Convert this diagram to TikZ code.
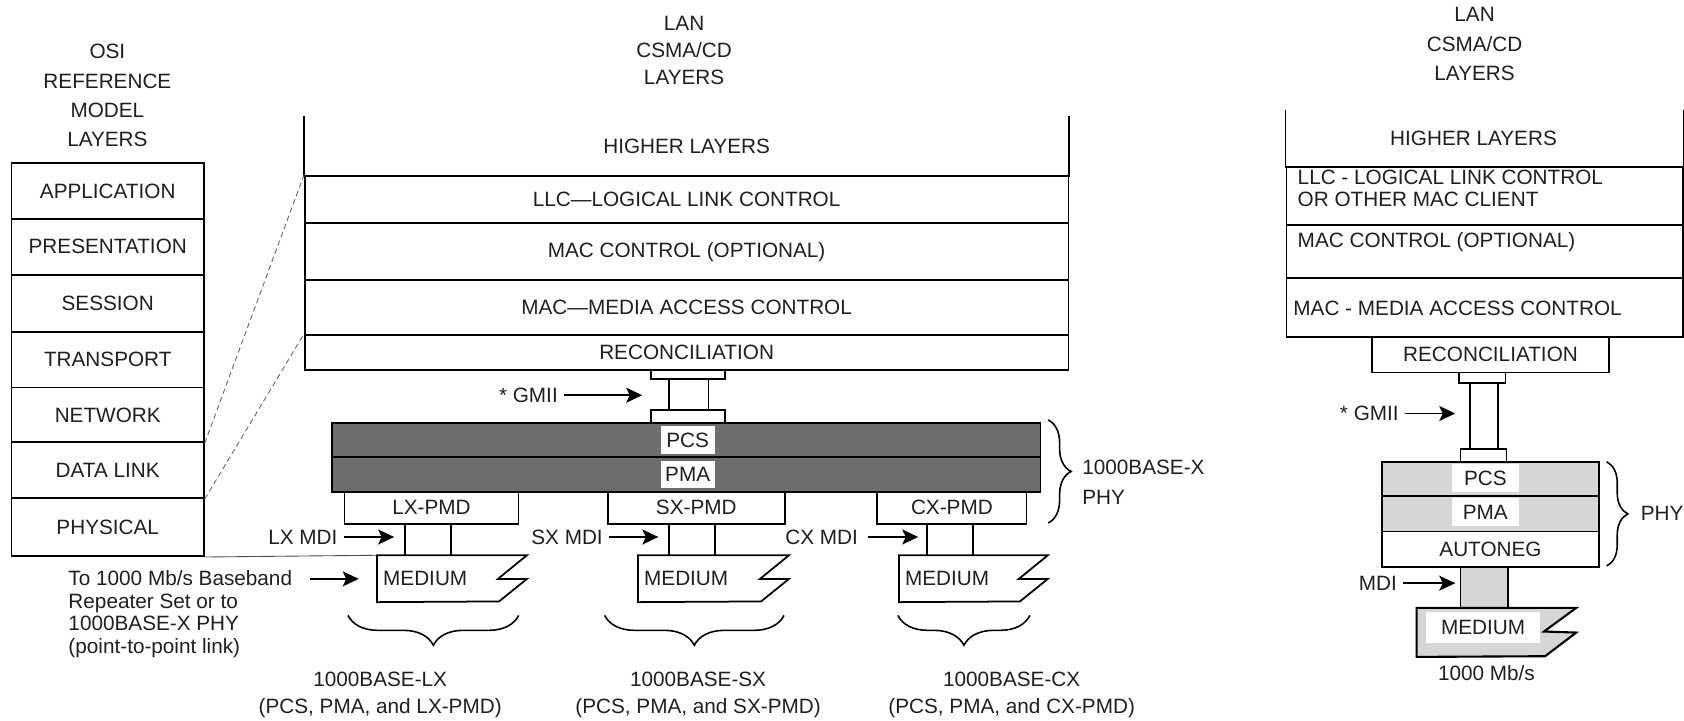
\documentclass[tikz,border=0pt]{standalone}
\usepackage{fontspec}
\setmainfont{Liberation Sans}
\usetikzlibrary{arrows.meta,decorations.pathreplacing}
\definecolor{pcsgray}{HTML}{6E6E6E}
\definecolor{phygray}{HTML}{D6D6D6}
\newdimen\px \px=0.02148cm

\begin{document}
\begin{tikzpicture}[
    x=0.02148cm,y=-0.02148cm,
    font=\fontsize{11.8}{13}\selectfont,text=black!88,
    >={Stealth[length=3.2mm,width=3mm,inset=0.7mm]},
    box/.style={draw,line width=1pt,anchor=north west,inner sep=0pt},
    osibox/.style={box,minimum width=179\px},
    lanbox/.style={box,minimum width=711\px},
    rlanbox/.style={box,minimum width=369\px},
    pmdbox/.style={box,minimum height=30\px},
    portbox/.style={anchor=north west,inner sep=0pt,minimum height=30\px},
    medbox/.style={anchor=north west,inner sep=0pt,minimum height=43\px},
    tagbox/.style={fill=white,inner sep=0pt,minimum height=26\px},
    headtxt/.style={align=center,font=\fontsize{11.8}{16}\selectfont},
    mdiarrow/.style={->,line width=1pt,shorten >=10\px},
    bracestyle/.style={decorate,line width=0.9pt},
    linkline/.style={line width=0.5pt,black!60,densely dashed},
    ]
    \useasboundingbox (0,0) rectangle (1568,671);

    % titles
    \node[headtxt,font=\fontsize{11.8}{16.6}\selectfont] (osititle) at (100,89) {OSI\\REFERENCE\\MODEL\\LAYERS};
    \node[headtxt,font=\fontsize{11.8}{15.4}\selectfont] (lantitle) at (637,47) {LAN\\CSMA/CD\\LAYERS};
    \node[headtxt,font=\fontsize{11.8}{16.6}\selectfont] (rlantitle) at (1373,41) {LAN\\CSMA/CD\\LAYERS};

    % OSI stack
    \node[osibox,minimum height=52\px] (app) at (10,151) {APPLICATION};
    \node[osibox,minimum height=52\px] (pres) at (10,203) {PRESENTATION};
    \node[osibox,minimum height=53\px] (sess) at (10,255) {SESSION};
    \node[osibox,minimum height=52\px] (trans) at (10,308) {TRANSPORT};
    \node[osibox,minimum height=51\px] (net) at (10,360) {NETWORK};
    \node[osibox,minimum height=52\px] (dl) at (10,411) {DATA LINK};
    \node[osibox,minimum height=54\px] (phy) at (10,463) {PHYSICAL};

    % LAN layers
    \node[lanbox,draw=none,minimum height=55\px] (hl) at (283,108) {HIGHER LAYERS};
    \draw[line width=1pt] (hl.north west) -- (hl.south west) (hl.north east) -- (hl.south east);
    \node[lanbox,minimum height=44\px] (llc) at (283,163) {LLC—LOGICAL LINK CONTROL};
    \node[lanbox,minimum height=53\px] (macc) at (283,207) {MAC CONTROL (OPTIONAL)};
    \node[lanbox,minimum height=51\px] (mac) at (283,260) {MAC—MEDIA ACCESS CONTROL};
    \node[lanbox,minimum height=33\px] (rec) at (283,311) {RECONCILIATION};
    \draw[linkline] (net.south east) -- (llc.north west);
    \draw[linkline] (dl.south east) -- (rec.north west);

    % GMII
    \node[box,minimum width=69\px,minimum height=8\px] (gtop) at (605,344) {};
    \node[portbox,minimum width=36\px,minimum height=29\px] (gmii) at (623,352) {};
    \draw[line width=1pt] (gmii.north west) -- (gmii.south west) (gmii.north east) -- (gmii.south east);
    \node[box,minimum width=69\px,minimum height=12\px] (gbot) at (605,381) {};
    \node (gmiitxt) at (492,368) {* GMII};
    \draw[mdiarrow,shorten >=25\px] (gmiitxt.east) -- (gmiitxt.east -| gmii.west);

    % PCS / PMA
    \node[box,fill=pcsgray,minimum width=660\px,minimum height=32\px] (pcs) at (308,393) {};
    \node[box,fill=pcsgray,minimum width=660\px,minimum height=32\px] (pma) at (308,425) {};
    \node[tagbox,minimum width=50\px] (pcstag) at (pcs.center -| gtop.center) {PCS};
    \node[tagbox,minimum width=50\px] (pmatag) at (pma.center -| gtop.center) {PMA};
    \draw[bracestyle,decoration={brace,amplitude=13pt}] (976,391) -- (976,487);
    \node[anchor=west,align=left,font=\fontsize{11.8}{16.6}\selectfont] (xphy) at (1002,449) {1000BASE-X\\PHY};

    % PMDs
    \node[pmdbox,minimum width=162\px] (lxpmd) at (320,457) {LX-PMD};
    \node[pmdbox,minimum width=165\px] (sxpmd) at (565,457) {SX-PMD};
    \node[pmdbox,minimum width=139\px] (cxpmd) at (816,457) {CX-PMD};

    \node[portbox,minimum width=42\px] (lxmdi) at (377,487) {};
    \node[portbox,minimum width=42\px] (sxmdi) at (623,487) {};
    \node[portbox,minimum width=42\px] (cxmdi) at (863,487) {};
    \draw[line width=1pt]
        (lxmdi.north west) -- (lxmdi.south west) (lxmdi.north east) -- (lxmdi.south east)
        (sxmdi.north west) -- (sxmdi.south west) (sxmdi.north east) -- (sxmdi.south east)
        (cxmdi.north west) -- (cxmdi.south west) (cxmdi.north east) -- (cxmdi.south east);
    \node (lxmditxt) at (282,500) {LX MDI};
    \node (sxmditxt) at (528,500) {SX MDI};
    \node (cxmditxt) at (765,500) {CX MDI};
    \draw[mdiarrow] (lxmditxt.east) -- (lxmditxt.east -| lxmdi.west);
    \draw[mdiarrow] (sxmditxt.east) -- (sxmditxt.east -| sxmdi.west);
    \draw[mdiarrow,shorten >=8\px,shorten <=4\px] (cxmditxt.east) -- (cxmditxt.east -| cxmdi.west);

    % media
    \node[medbox,minimum width=139\px] (lxmed) at (351,517) {};
    \node[medbox,minimum width=140\px] (sxmed) at (594,517) {};
    \node[medbox,minimum width=138\px] (cxmed) at (837,517) {};
    \draw[line width=1pt] (lxmed.north west) -- (lxmed.north east) -- ++(-27,22) -- ++(27,0) -- ++(-26,21) -- (lxmed.south west) -- cycle;
    \draw[line width=1pt] (sxmed.north west) -- (sxmed.north east) -- ++(-27,22) -- ++(27,0) -- ++(-26,21) -- (sxmed.south west) -- cycle;
    \draw[line width=1pt] (cxmed.north west) -- (cxmed.north east) -- ++(-27,22) -- ++(27,0) -- ++(-26,21) -- (cxmed.south west) -- cycle;
    \node[anchor=west] (lxmedtxt) at (lxmed.west) {MEDIUM};
    \node[anchor=west] (sxmedtxt) at (sxmed.west) {MEDIUM};
    \node[anchor=west] (cxmedtxt) at (cxmed.west) {MEDIUM};
    \draw[line width=0.5pt,black!70] (phy.south east) -- (lxmed.north west);

    \node[anchor=west,align=left,font=\fontsize{11.8}{12.8}\selectfont] (repeater) at (58,572)
        {To 1000 Mb/s Baseband\\Repeater Set or to\\1000BASE-X PHY\\(point-to-point link)};
    \coordinate (reparrow) at (289,539);
    \draw[mdiarrow,shorten >=17\px] (reparrow) -- (reparrow -| lxmed.west);

    % PMD groups
    \draw[bracestyle,decoration={brace,mirror,amplitude=17pt}] (324,573) -- (483,573);
    \draw[bracestyle,decoration={brace,mirror,amplitude=17pt}] (563,573) -- (730,573);
    \draw[bracestyle,decoration={brace,mirror,amplitude=17pt}] (836,573) -- (959,573);
    \node[headtxt,font=\fontsize{11.8}{15.4}\selectfont] (lxname) at (354,647) {1000BASE-LX\\(PCS, PMA, and LX-PMD)};
    \node[headtxt,font=\fontsize{11.8}{15.4}\selectfont] (sxname) at (650,647) {1000BASE-SX\\(PCS, PMA, and SX-PMD)};
    \node[headtxt,font=\fontsize{11.8}{15.4}\selectfont] (cxname) at (942,647) {1000BASE-CX\\(PCS, PMA, and CX-PMD)};

    % right stack
    \node[rlanbox,draw=none,minimum height=53\px] (rhl) at (1197,102) {};
    \draw[line width=1pt] (rhl.north west) -- (rhl.south west) (rhl.north east) -- (rhl.south east);
    \node (rhltxt) at (1372,129) {HIGHER LAYERS};
    \node[rlanbox,minimum height=54\px] (rllc) at (1197,155) {};
    \node[rlanbox,minimum height=49\px] (rmacc) at (1197,209) {};
    \node[rlanbox,minimum height=55\px] (rmac) at (1197,258) {};
    \node[anchor=north west,align=left,inner sep=0pt,font=\fontsize{11.8}{12.3}\selectfont] (rllctxt) at (1208,158)
        {LLC - LOGICAL LINK CONTROL\\OR OTHER MAC CLIENT};
    \node[anchor=base west,inner sep=0pt] (rmacctxt) at (1208,230) {MAC CONTROL (OPTIONAL)};
    \node[anchor=base west,inner sep=0pt] (rmactxt) at (1204,294) {MAC - MEDIA ACCESS CONTROL};
    \node[box,minimum width=220\px,minimum height=33\px] (rrec) at (1277,313) {RECONCILIATION};

    \node[box,minimum width=43\px,minimum height=10\px] (rgtop) at (1358,346) {};
    \node[portbox,minimum width=25\px,minimum height=61\px] (rgmii) at (1369,356) {};
    \draw[line width=1pt] (rgmii.north west) -- (rgmii.south west) (rgmii.north east) -- (rgmii.south east);
    \node[box,minimum width=43\px,minimum height=12\px] (rgbot) at (1359,417) {};
    \node (rgmiitxt) at (1275,385) {* GMII};
    \draw[mdiarrow,shorten >=14\px] (rgmiitxt.east) -- (rgmiitxt.east -| rgmii.west);

    \node[box,fill=phygray,minimum width=202\px,minimum height=32\px] (rpcs) at (1286,429) {};
    \node[box,fill=phygray,minimum width=202\px,minimum height=33\px] (rpma) at (1286,461) {};
    \node[box,minimum width=202\px,minimum height=33\px] (rauto) at (1286,494) {AUTONEG};
    \node[tagbox,minimum width=63\px] (rpcstag) at (1383,445) {PCS};
    \node[tagbox,minimum width=63\px] (rpmatag) at (1383,477) {PMA};
    \draw[bracestyle,decoration={brace,amplitude=12pt}] (1496,430) -- (1496,527);
    \node[anchor=west] (rphy) at (1522,478) {PHY};

    \node[box,fill=phygray,minimum width=44\px,minimum height=39\px] (rmdi) at (1359,527) {};
    \node (rmditxt) at (1283,543) {MDI};
    \draw[mdiarrow,shorten >=4\px] (rmditxt.east) -- (rmditxt.east -| rmdi.west);

    \node[anchor=north west,inner sep=0pt,minimum width=148\px,minimum height=45\px] (rmed) at (1319,566) {};
    \draw[line width=1.2pt,fill=phygray] (rmed.north west) -- (rmed.north east) -- ++(-30,22) -- ++(30,1) -- ++(-29,22) -- (rmed.south west) -- cycle;
    \node[fill=white,inner sep=0pt,minimum width=106\px,minimum height=29\px] (rmedtxt) at (1381,584) {MEDIUM};
    \node (rrate) at (1384,627) {1000 Mb/s};
\end{tikzpicture}
\end{document}
